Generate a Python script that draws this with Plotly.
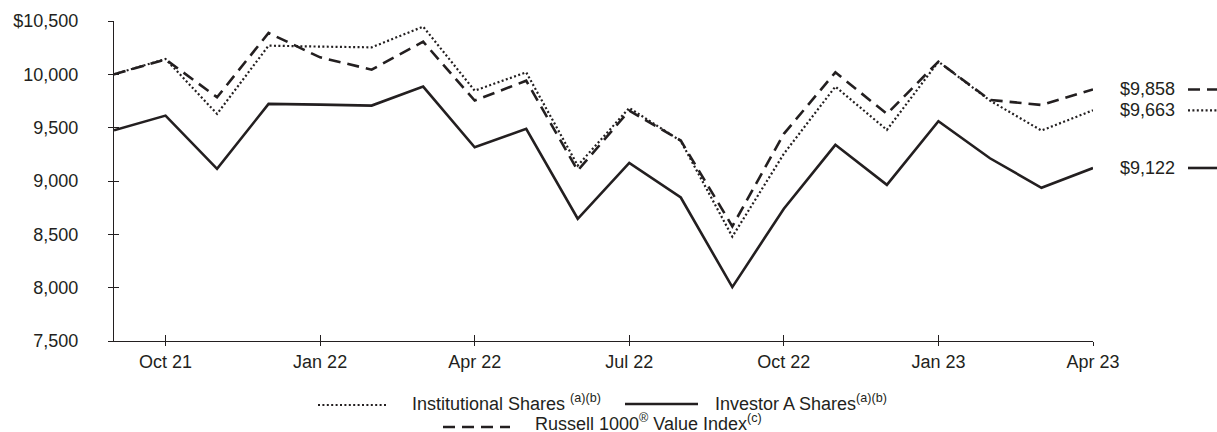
import plotly.graph_objects as go

# ---- data ----
months = ["Sep 21", "Oct 21", "Nov 21", "Dec 21", "Jan 22", "Feb 22", "Mar 22", "Apr 22",
          "May 22", "Jun 22", "Jul 22", "Aug 22", "Sep 22", "Oct 22", "Nov 22", "Dec 22",
          "Jan 23", "Feb 23", "Mar 23", "Apr 23"]
institutional = [10000, 10144, 9629, 10269, 10260, 10253, 10447, 9847, 10019, 9145,
                 9685, 9375, 8478, 9255, 9885, 9479, 10119, 9754, 9473, 9663]
investor_a = [9475, 9613, 9114, 9723, 9716, 9707, 9885, 9316, 9489, 8646,
              9170, 8845, 8005, 8740, 9339, 8964, 9560, 9213, 8936, 9122]
russell = [10000, 10140, 9785, 10388, 10159, 10044, 10306, 9754, 9940, 9098,
           9660, 9379, 8575, 9442, 10019, 9629, 10119, 9760, 9713, 9858]
x_tick_labels = ["Oct 21", "Jan 22", "Apr 22", "Jul 22", "Oct 22", "Jan 23", "Apr 23"]
y_tick_vals = [7500, 8000, 8500, 9000, 9500, 10000, 10500]
y_tick_text = ["7,500", "8,000", "8,500", "9,000", "9,500", "10,000", "$10,500"]
series_names = ["Institutional Shares <sup>(a)(b)</sup>", "Investor A Shares<sup>(a)(b)</sup>",
                "Russell 1000<sup>®</sup> Value Index<sup>(c)</sup>"]

# ---- styles ----
INK = "#231f20"
FONT = "Liberation Sans, Arial, Helvetica, sans-serif"
DOT = "2px,2.4px"
DASH = "12px,7px"
W, H = 1217, 432
L, R, T, B = 114, 124, 21, 91
PW, PH = W - L - R, H - T - B


def px_x(p):
    return (p - L) / PW


def px_y(p):
    return (H - B - p) / PH


fig = go.Figure()
styles = [(institutional, DOT, 2.2), (investor_a, "solid", 2.6), (russell, DASH, 2.6)]
for vals, dash, w in styles:
    fig.add_trace(go.Scatter(x=months, y=vals, mode="lines",
                             line=dict(color=INK, width=w, dash=dash),
                             showlegend=False, hoverinfo="skip"))

# invisible trace on overlay axes (for crossing tick marks)
fig.add_trace(go.Scatter(x=months, y=institutional, xaxis="x2", yaxis="y2", mode="lines",
                         line=dict(width=0), opacity=0, showlegend=False, hoverinfo="skip"))

axis_common = dict(showgrid=False, zeroline=False, linecolor=INK, linewidth=1.3,
                   tickcolor=INK, tickwidth=1.3)

fig.update_layout(
    width=W, height=H,
    margin=dict(l=L, r=R, t=T, b=B, pad=0),
    paper_bgcolor="white", plot_bgcolor="white",
    font=dict(family=FONT, size=18, color=INK),
    xaxis=dict(type="category", categoryarray=months, range=[0, len(months) - 1],
               tickmode="array", tickvals=x_tick_labels, ticktext=x_tick_labels,
               ticks="outside", ticklen=4, showline=True, ticklabelstandoff=0,
               automargin=False, **axis_common),
    yaxis=dict(range=[7500, 10500], tickmode="array", tickvals=y_tick_vals,
               ticktext=y_tick_text, ticks="outside", ticklen=5, showline=True,
               ticklabelstandoff=26, automargin=False, **axis_common),
    xaxis2=dict(type="category", categoryarray=months, range=[0, len(months) - 1],
                overlaying="x", anchor="y2", tickmode="array", tickvals=x_tick_labels,
                ticks="inside", ticklen=6, showticklabels=False, showline=False,
                **axis_common),
    yaxis2=dict(range=[7500, 10500], overlaying="y", anchor="x2", tickmode="array",
                tickvals=y_tick_vals, ticks="inside", ticklen=5, showticklabels=False,
                showline=False, **axis_common),
)

# ---- end labels on the right ----
end_items = [(russell[-1], DASH, 2.6), (institutional[-1], DOT, 2.2), (investor_a[-1], "solid", 2.6)]
for v, dash, w in end_items:
    fig.add_annotation(x=px_x(1118), y=v, xref="paper", yref="y", xanchor="left",
                       yanchor="middle", text=f"${v:,}", showarrow=False,
                       font=dict(size=18, color=INK))
    fig.add_shape(type="line", xref="paper", yref="y", x0=px_x(1188), x1=px_x(1217),
                  y0=v, y1=v, line=dict(color=INK, width=w, dash=dash))

# ---- custom legend ----
legend_items = [
    (series_names[0], DOT, 2.2, 318, 388, 410, 405, 402),
    (series_names[1], "solid", 2.6, 625, 698, 713, 404, 402),
    (series_names[2], DASH, 2.6, 443, 510, 533, 427, 422),
]
for name, dash, w, s0, s1, tx, sy, ty in legend_items:
    fig.add_shape(type="line", xref="paper", yref="paper", x0=px_x(s0), x1=px_x(s1),
                  y0=px_y(sy), y1=px_y(sy), line=dict(color=INK, width=w, dash=dash))
    fig.add_annotation(x=px_x(tx), y=px_y(ty), xref="paper", yref="paper", xanchor="left",
                       yanchor="middle", text=name, showarrow=False,
                       font=dict(size=18, color=INK))

fig.write_html("out.html", config={"displayModeBar": False},
               post_script="document.body.style.margin='0';document.body.style.overflow='hidden';")
